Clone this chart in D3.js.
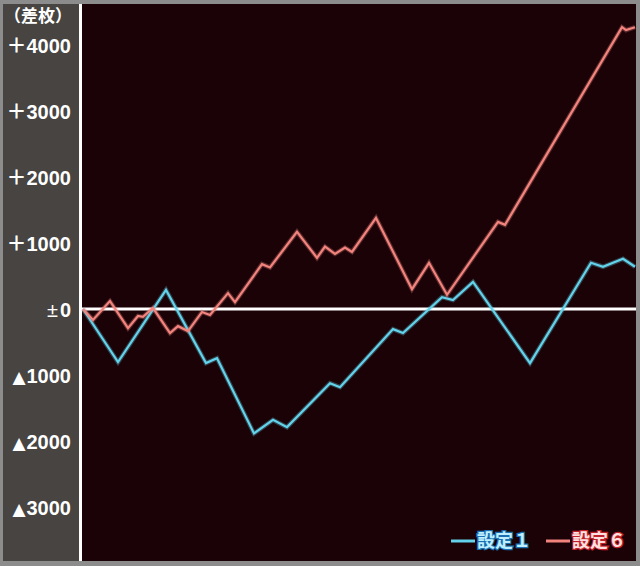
<!DOCTYPE html>
<html><head><meta charset="utf-8">
<script src="https://cdn.jsdelivr.net/npm/d3@7/dist/d3.min.js"></script>
<style>html,body{margin:0;padding:0;background:#8a8a8a;}svg{display:block;}</style>
</head><body>
<script>
// Data (x = progress in units across the plot, y = 差枚)
const series1X = [0,35,83,123,134,171,190,204,247,257,310,320,359,370,390,447,508,520,540,552];
const series1Y = [0,-805,290,-820,-745,-1885,-1680,-1790,-1125,-1185,-305,-365,180,135,410,-820,700,640,760,640];
const series6X = [0,10,27,45,55,60,70,87,95,105,119,127,145,152,179,187,214,234,242,252,262,269,293,329,346,364,415,422,539,543,552];
const series6Y = [0,-165,120,-290,-105,-120,15,-365,-260,-335,-45,-90,240,105,680,630,1170,775,945,835,930,865,1380,300,700,215,1320,1275,4270,4225,4270];
const tickValues = [4000,3000,2000,1000,0,-1000,-2000,-3000];
const tickPrefix = ["＋","＋","＋","＋","±","▲","▲","▲"];
const tickNumbers = ["4000","3000","2000","1000","0","1000","2000","3000"];
const unitLabel = "（差枚）";
const seriesNames = ["設定１","設定６"];
const seriesColors = ["#62d3ea","#f2837d"];

const W=640,H=566;
const svg=d3.select("body").append("svg").attr("width",W).attr("height",H);
// frame
svg.append("rect").attr("x",0).attr("y",0).attr("width",W).attr("height",H).attr("fill","#8c8c8c");
svg.append("rect").attr("x",3).attr("y",4).attr("width",77).attr("height",557).attr("fill","#474441");
svg.append("rect").attr("x",82).attr("y",4).attr("width",554).attr("height",557).attr("fill","#1b0207");
svg.append("rect").attr("x",79).attr("y",4).attr("width",3).attr("height",557).attr("fill","#ffffff");

const x=d3.scaleLinear().domain([0,552]).range([83,635]);
const y=d3.scaleLinear().domain([0,4000]).range([309,45]);

// y labels
const yAxis=d3.axisLeft(y).tickValues(tickValues).tickSize(0).tickPadding(0).tickFormat("");
const ga=svg.append("g").attr("transform","translate(71,0)").call(yAxis);
ga.select(".domain").remove();
ga.selectAll(".tick").each(function(d,i){
  const t=d3.select(this).select("text").text(null)
    .attr("fill","#ffffff").attr("font-family","'Liberation Sans', Arial, sans-serif")
    .attr("font-weight","bold").attr("font-size",20).attr("dy",null).attr("y",7).attr("text-anchor","end");
  const p=tickPrefix[i];
  if(p==="▲"){
    t.append("tspan").attr("font-family","'DejaVu Sans', sans-serif").attr("font-size",17).attr("dx",0).text(p);
    t.append("tspan").attr("dx",1).text(tickNumbers[i]);
  } else if(p==="＋"){
    t.append("tspan").attr("font-family","'Noto Sans CJK JP', sans-serif").attr("font-weight","bold").attr("font-size",20).text(p);
    t.append("tspan").text(tickNumbers[i]);
  } else {
    t.append("tspan").attr("font-weight","normal").text(p);
    t.append("tspan").attr("dx",2).text(tickNumbers[i]);
  }
});
svg.append("text").attr("x",72).attr("y",16).attr("text-anchor","end").attr("dy","0.36em")
  .attr("fill","#ffffff").attr("font-family","'Noto Sans CJK JP', sans-serif").attr("font-weight","bold")
  .attr("font-size",17).text(unitLabel);

// zero line
svg.append("line").attr("x1",82).attr("x2",636).attr("y1",y(0)).attr("y2",y(0))
  .attr("stroke","#ffffff").attr("stroke-width",3);

const line=d3.line().x(d=>x(d[0])).y(d=>y(d[1]));
const data1=series1X.map((v,i)=>[v,series1Y[i]]);
const data6=series6X.map((v,i)=>[v,series6Y[i]]);
[[data1,seriesColors[0]],[data6,seriesColors[1]]].forEach(([d,c])=>{
  svg.append("path").datum(d).attr("d",line).attr("fill","none").attr("stroke",c)
    .attr("stroke-opacity",0.3).attr("stroke-width",4.5).attr("stroke-linejoin","miter");
  svg.append("path").datum(d).attr("d",line).attr("fill","none").attr("stroke",c)
    .attr("stroke-width",2.2).attr("stroke-linejoin","miter");
});

// legend
const leg=[{x:451,c:seriesColors[0],s:"#1a6fb0",f:"#bfeeff",t:seriesNames[0]},{x:546,c:seriesColors[1],s:"#c0202a",f:"#ffe0e0",t:seriesNames[1]}];
leg.forEach(l=>{
  svg.append("line").attr("x1",l.x).attr("x2",l.x+24).attr("y1",541).attr("y2",541)
    .attr("stroke",l.c).attr("stroke-width",3);
  svg.append("text").attr("x",l.x+26).attr("y",541).attr("dy","0.36em")
    .attr("font-family","'Noto Sans CJK JP', sans-serif").attr("font-weight","bold").attr("font-size",18)
    .attr("fill",l.f).attr("stroke",l.s).attr("stroke-width",2.5).attr("paint-order","stroke")
    .text(l.t);
});
</script>
</body></html>
